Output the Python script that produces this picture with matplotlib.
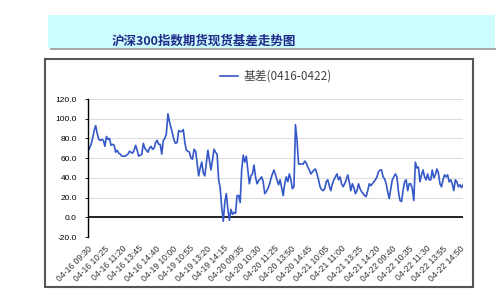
import matplotlib.pyplot as plt
from matplotlib.patches import Rectangle

plt.rcParams['font.family'] = ['Noto Sans CJK SC', 'DejaVu Sans']

# trading days and 5-minute bar times (09:30-11:30, 13:05-15:00)
days = ["04-16", "04-19", "04-20", "04-21", "04-22"]
morning = ["%02d:%02d" % divmod(m, 60) for m in range(9 * 60 + 30, 11 * 60 + 31, 5)]
afternoon = ["%02d:%02d" % divmod(m, 60) for m in range(13 * 60 + 5, 15 * 60 + 1, 5)]
labels = [d + " " + t for d in days for t in morning + afternoon]

# basis values
basis = [
    67, 70, 74, 80, 88, 93, 85, 79, 78, 79,
    78, 72, 82, 79, 80, 73, 74, 73, 66, 68,
    65, 64, 62, 62, 62, 63, 64, 67, 66, 65,
    68, 73, 68, 62, 63, 64, 75, 70, 68, 66,
    70, 72, 69, 70, 76, 78, 74, 74, 64, 78,
    80, 85, 105, 97, 91, 85, 78, 75, 76, 88,
    87, 87, 89, 76, 68, 67, 66, 60, 59, 69,
    67, 55, 42, 50, 56, 45, 42, 55, 68, 58,
    48, 58, 69, 66, 64, 38, 30, 10, -4, 15,
    24, 8, -3, 8, 3, 5, 4, 22, 22, 15,
    48, 63, 56, 62, 48, 34, 42, 44, 53, 41,
    34, 37, 39, 41, 36, 24, 26, 29, 33, 39,
    44, 48, 43, 38, 33, 38, 30, 22, 34, 41,
    36, 44, 38, 29, 31, 94, 78, 54, 54, 54,
    54, 57, 55, 51, 48, 44, 46, 48, 49, 44,
    38, 31, 28, 27, 29, 36, 38, 32, 27, 34,
    38, 41, 44, 38, 41, 34, 31, 34, 38, 43,
    36, 27, 34, 30, 24, 27, 34, 29, 26, 24,
    22, 21, 27, 34, 32, 34, 36, 38, 41, 46,
    48, 48, 41, 39, 34, 26, 19, 29, 38, 41,
    44, 41, 26, 17, 16, 27, 36, 38, 27, 34,
    34, 29, 17, 56, 50, 51, 36, 43, 48, 41,
    38, 44, 38, 38, 48, 40, 43, 49, 45, 34,
    31, 38, 43, 41, 43, 36, 38, 34, 27, 38,
    36, 31, 33, 30, 33,
]
labels = labels[:len(basis)]
yticks = [-20, 0, 20, 40, 60, 80, 100, 120]

fig = plt.figure(figsize=(5, 3), dpi=100)
W, H = 500, 300

# title banner
fig.patches.append(Rectangle((50 / W, 1 - 50 / H), 446 / W, 2 / H, transform=fig.transFigure,
                             facecolor="#a8a8a8", edgecolor="none", zorder=0))
fig.patches.append(Rectangle((48 / W, 1 - 48 / H), 447 / W, 33 / H, transform=fig.transFigure,
                             facecolor="#ccfcfc", edgecolor="none", zorder=0))
fig.text(112 / W, 1 - 45 / H, "沪深300指数期货现货基差走势图", fontsize=9, fontweight="bold",
         color="#1f2a8a", va="baseline")

# chart frame
fig.patches.append(Rectangle((45 / W, 1 - 287 / H), 428 / W, 228 / H, transform=fig.transFigure,
                             facecolor="white", edgecolor="#555555", linewidth=1.5, zorder=0))

ax = fig.add_axes([88 / W, 1 - 237 / H, 375 / W, 138 / H])
ax.set_zorder(2)
ax.patch.set_alpha(0)
x = list(range(len(basis)))
ax.plot(x, basis, color="#3558c8", linewidth=1.2, label="基差(0416-0422)")
ax.axhline(0, color="black", linewidth=1.2, zorder=1)

ax.set_ylim(-20, 120)
ax.set_xlim(0, len(basis) - 1)
ax.set_yticks(yticks)
ax.set_yticklabels(["%.1f" % v for v in yticks], fontsize=6, family="Liberation Sans")
ax.yaxis.grid(True, color="#dddddd", linewidth=0.8)
ax.set_axisbelow(True)
ax.tick_params(axis="y", length=2, width=0.6, pad=6)

ax.set_xticks(x[::11])
ax.set_xticklabels(labels[::11], rotation=45, ha="right", va="top", rotation_mode="anchor",
                   fontsize=6.2, family="Liberation Sans", color="#333333")
ax.tick_params(axis="x", length=0, pad=5)

for s in ["top", "right", "bottom"]:
    ax.spines[s].set_visible(False)
ax.spines["left"].set_linewidth(1.0)

leg = ax.legend(loc="lower center", bbox_to_anchor=(0.5, 1.04), frameon=False, fontsize=8.5,
                handlelength=1.6, handletextpad=0.4)
for t in leg.get_texts():
    t.set_color("#444444")

fig.savefig("out.png", dpi=100, facecolor="white")
